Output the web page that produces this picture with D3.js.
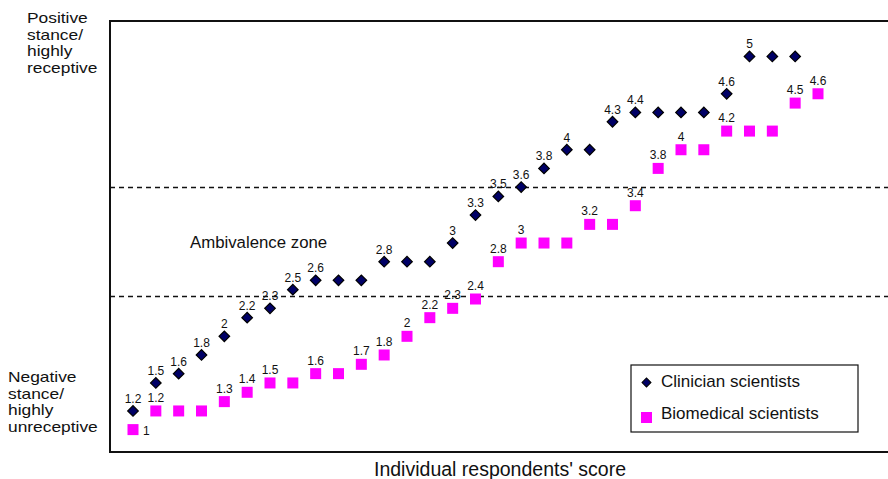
<!DOCTYPE html>
<html>
<head>
<meta charset="utf-8">
<script src="https://cdn.jsdelivr.net/npm/d3@7"></script>
<style>
  body { margin: 0; background: #fff; }
  text { font-family: "Liberation Sans", Arial, sans-serif; fill: #111; }
</style>
</head>
<body>
<div id="chart"></div>
<script>
// respondents' scores, sorted, one per respondent
const clinicianScores = [1.2, 1.5, 1.6, 1.8, 2, 2.2, 2.3, 2.5, 2.6, 2.6, 2.6, 2.8, 2.8, 2.8, 3,
  3.3, 3.5, 3.6, 3.8, 4, 4, 4.3, 4.4, 4.4, 4.4, 4.4, 4.6, 5, 5, 5];
const biomedicalScores = [1, 1.2, 1.2, 1.2, 1.3, 1.4, 1.5, 1.5, 1.6, 1.6, 1.7, 1.8, 2, 2.2, 2.3,
  2.4, 2.8, 3, 3, 3, 3.2, 3.2, 3.4, 3.8, 4, 4, 4.2, 4.2, 4.2, 4.5, 4.6];
// index of points that carry a value label
const clinicianLabelled = [0, 1, 2, 3, 4, 5, 6, 7, 8, 11, 14, 15, 16, 17, 18, 19, 21, 22, 26, 27];
const biomedicalLabelled = [0, 1, 4, 5, 6, 8, 10, 11, 12, 13, 14, 15, 16, 17, 20, 22, 23, 24, 26, 29, 30];
// ambivalence zone boundaries (score)
const zoneBounds = [2.43, 3.6];
const seriesNames = ["Clinician scientists", "Biomedical scientists"];

const width = 888, height = 479;
const svg = d3.select("#chart").append("svg")
  .attr("width", width)
  .attr("height", height);

const plot = {left: 110, top: 21, right: 900, bottom: 452};

const x = d3.scaleLinear()
  .domain([0, 30])
  .range([133, 818]);
const y = d3.scaleLinear()
  .domain([0.76, 5.38])
  .range([plot.bottom, plot.top]);

// frame (right edge is off the picture)
svg.append("path")
  .attr("d", `M${plot.right},${plot.top}H${plot.left}V${plot.bottom}H${plot.right}`)
  .attr("fill", "none")
  .attr("stroke", "#111")
  .attr("stroke-width", 2);

// ambivalence zone lines
svg.selectAll(".zone")
  .data(zoneBounds)
  .join("line")
  .attr("class", "zone")
  .attr("x1", plot.left)
  .attr("x2", width)
  .attr("y1", d => Math.round(y(d)) + 0.5)
  .attr("y2", d => Math.round(y(d)) + 0.5)
  .attr("stroke", "#111")
  .attr("stroke-width", 1.5)
  .attr("stroke-dasharray", "5,4");

svg.append("text")
  .attr("x", 190)
  .attr("y", 248)
  .style("font-size", "16.8px")
  .text("Ambivalence zone");

// biomedical scientists: pink squares
const sq = 11;
svg.append("g")
  .selectAll("rect")
  .data(biomedicalScores)
  .join("rect")
  .attr("x", (d, i) => x(i) - sq / 2)
  .attr("y", d => y(d) - sq / 2)
  .attr("width", sq)
  .attr("height", sq)
  .attr("fill", "#ff00ff");

// clinician scientists: navy diamonds
const diamond = d3.symbol().type(d3.symbolSquare).size(56);
svg.append("g")
  .selectAll("path")
  .data(clinicianScores)
  .join("path")
  .attr("d", diamond)
  .attr("transform", (d, i) => `translate(${x(i)},${y(d)}) rotate(45)`)
  .attr("fill", "#000066")
  .attr("stroke", "#000")
  .attr("stroke-width", 1.2);

// value labels
svg.append("g")
  .selectAll("text")
  .data(clinicianLabelled)
  .join("text")
  .attr("x", i => x(i))
  .attr("y", i => y(clinicianScores[i]) - 8)
  .attr("text-anchor", "middle")
  .style("font-size", "12px")
  .text(i => clinicianScores[i]);

svg.append("g")
  .selectAll("text")
  .data(biomedicalLabelled)
  .join("text")
  .attr("x", i => i === 0 ? x(i) + 10 : x(i))
  .attr("y", i => i === 0 ? y(biomedicalScores[i]) + 5 : y(biomedicalScores[i]) - 9)
  .attr("text-anchor", i => i === 0 ? "start" : "middle")
  .style("font-size", "12px")
  .text(i => biomedicalScores[i]);

// side captions (tight leading, so a smaller font stretched sideways)
const captionTop = ["Positive", "stance/", "highly", "receptive"];
const captionBottom = ["Negative", "stance/", "highly", "unreceptive"];
svg.append("g")
  .selectAll("text")
  .data(captionTop)
  .join("text")
  .attr("transform", (d, i) => `translate(27,${23 + i * 16.5}) scale(1.19,1)`)
  .style("font-size", "14.6px")
  .text(d => d);
svg.append("g")
  .selectAll("text")
  .data(captionBottom)
  .join("text")
  .attr("transform", (d, i) => `translate(8,${382 + i * 16.6}) scale(1.19,1)`)
  .style("font-size", "14.6px")
  .text(d => d);

// x axis label
svg.append("text")
  .attr("x", 500)
  .attr("y", 476)
  .attr("text-anchor", "middle")
  .style("font-size", "19.5px")
  .text("Individual respondents' score");

// legend
const legend = svg.append("g").attr("transform", "translate(631,365)");
legend.append("rect")
  .attr("width", 227)
  .attr("height", 67)
  .attr("fill", "#fff")
  .attr("stroke", "#111")
  .attr("stroke-width", 1.2);
legend.append("path")
  .attr("d", d3.symbol().type(d3.symbolSquare).size(40))
  .attr("transform", "translate(15.5,17.5) rotate(45)")
  .attr("fill", "#000066")
  .attr("stroke", "#000");
legend.append("rect")
  .attr("x", 10)
  .attr("y", 47)
  .attr("width", 11)
  .attr("height", 11)
  .attr("fill", "#ff00ff");
legend.selectAll(".lt")
  .data(seriesNames)
  .join("text")
  .attr("class", "lt")
  .attr("x", 30)
  .attr("y", (d, i) => 22 + i * 32)
  .style("font-size", "17px")
  .text(d => d);
</script>
</body>
</html>
